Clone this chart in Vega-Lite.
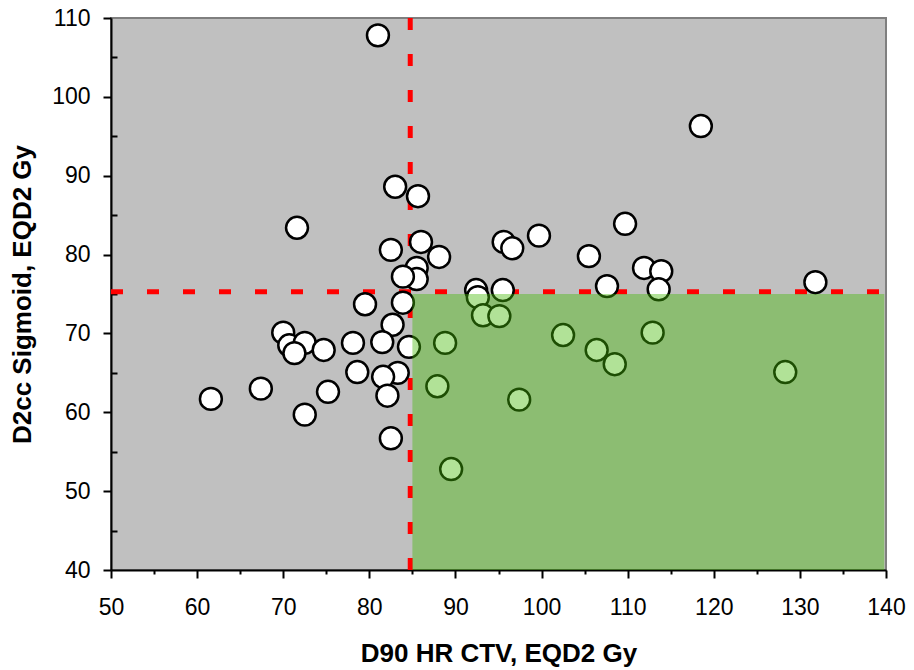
{
  "$schema": "https://vega.github.io/schema/vega-lite/v6.json",
  "width": 775,
  "height": 552,
  "autosize": {"type": "none"},
  "padding": {"left": 111, "top": 18, "right": 28, "bottom": 100},
  "config": {
    "view": {"fill": "#c0c0c0", "stroke": "#7f7f7f", "strokeWidth": 2},
    "axis": {
      "grid": false,
      "domainColor": "black",
      "domainWidth": 2,
      "tickColor": "black",
      "tickWidth": 2,
      "labelFont": "Liberation Sans",
      "labelFontSize": 23,
      "labelColor": "black",
      "titleFont": "Liberation Sans",
      "titleFontSize": 26,
      "titleFontWeight": "bold",
      "titleColor": "black",
      "zindex": 1
    }
  },
  "datasets": {
    "patients": [
      {"d90": 81.0, "d2cc": 107.8},
      {"d90": 118.5, "d2cc": 96.3},
      {"d90": 83.0, "d2cc": 88.6},
      {"d90": 85.65, "d2cc": 87.4},
      {"d90": 71.6, "d2cc": 83.4},
      {"d90": 109.7, "d2cc": 83.9},
      {"d90": 82.5, "d2cc": 80.6},
      {"d90": 86.0, "d2cc": 81.6},
      {"d90": 88.1, "d2cc": 79.7},
      {"d90": 95.6, "d2cc": 81.6},
      {"d90": 96.6, "d2cc": 80.8},
      {"d90": 99.7, "d2cc": 82.4},
      {"d90": 105.5, "d2cc": 79.8},
      {"d90": 111.9, "d2cc": 78.3},
      {"d90": 113.9, "d2cc": 77.9},
      {"d90": 107.6, "d2cc": 76.0},
      {"d90": 113.6, "d2cc": 75.6},
      {"d90": 131.8, "d2cc": 76.5},
      {"d90": 85.5, "d2cc": 78.3},
      {"d90": 85.5, "d2cc": 76.9},
      {"d90": 83.9, "d2cc": 77.2},
      {"d90": 92.4, "d2cc": 75.5},
      {"d90": 92.6, "d2cc": 74.6},
      {"d90": 95.5, "d2cc": 75.5},
      {"d90": 79.5, "d2cc": 73.7},
      {"d90": 83.9, "d2cc": 73.9},
      {"d90": 82.7, "d2cc": 71.1},
      {"d90": 70.0, "d2cc": 70.1},
      {"d90": 70.7, "d2cc": 68.5},
      {"d90": 72.5, "d2cc": 68.8},
      {"d90": 71.3, "d2cc": 67.5},
      {"d90": 74.7, "d2cc": 67.9},
      {"d90": 78.1, "d2cc": 68.8},
      {"d90": 81.5, "d2cc": 68.9},
      {"d90": 84.6, "d2cc": 68.3},
      {"d90": 78.6, "d2cc": 65.1},
      {"d90": 83.3, "d2cc": 65.0},
      {"d90": 81.6, "d2cc": 64.5},
      {"d90": 82.1, "d2cc": 62.1},
      {"d90": 75.2, "d2cc": 62.6},
      {"d90": 67.4, "d2cc": 63.0},
      {"d90": 61.6, "d2cc": 61.7},
      {"d90": 72.5, "d2cc": 59.7},
      {"d90": 82.5, "d2cc": 56.7},
      {"d90": 93.2, "d2cc": 72.3},
      {"d90": 95.1, "d2cc": 72.2},
      {"d90": 88.8, "d2cc": 68.8},
      {"d90": 87.9, "d2cc": 63.3},
      {"d90": 89.5, "d2cc": 52.8},
      {"d90": 97.4, "d2cc": 61.6},
      {"d90": 102.5, "d2cc": 69.8},
      {"d90": 106.4, "d2cc": 67.9},
      {"d90": 108.5, "d2cc": 66.1},
      {"d90": 112.9, "d2cc": 70.1},
      {"d90": 128.3, "d2cc": 65.1}
    ],
    "vline": [{"x": 84.75, "y": 110, "y2": 40}],
    "hline": [{"x": 50, "x2": 140, "y": 75.3}],
    "zone": [{"x": 85, "x2": 139.8, "y": 40, "y2": 75}]
  },
  "layer": [
    {
      "data": {"name": "vline"},
      "mark": {"type": "rule", "color": "#ff0000", "strokeWidth": 5, "strokeDash": [12, 24]},
      "encoding": {
        "x": {"field": "x", "type": "quantitative", "scale": {"domain": [50, 140], "nice": false, "zero": false}, "axis": null},
        "y": {"field": "y", "type": "quantitative", "scale": {"domain": [40, 110], "nice": false, "zero": false}, "axis": null},
        "y2": {"field": "y2"}
      }
    },
    {
      "data": {"name": "hline"},
      "mark": {"type": "rule", "color": "#ff0000", "strokeWidth": 5, "strokeDash": [12, 24]},
      "encoding": {
        "x": {"field": "x", "type": "quantitative", "scale": {"domain": [50, 140], "nice": false, "zero": false}, "axis": null},
        "x2": {"field": "x2"},
        "y": {"field": "y", "type": "quantitative", "scale": {"domain": [40, 110], "nice": false, "zero": false}, "axis": null}
      }
    },
    {
      "data": {"name": "patients"},
      "mark": {"type": "circle", "size": 480, "fill": "#ffffff", "stroke": "#000000", "strokeWidth": 2.5, "opacity": 1},
      "encoding": {
        "x": {
          "field": "d90", "type": "quantitative",
          "scale": {"domain": [50, 140], "nice": false, "zero": false},
          "axis": {
            "orient": "bottom",
            "values": [50, 60, 70, 80, 90, 100, 110, 120, 130, 140],
            "tickSize": 8,
            "labelPadding": 18,
            "labelFlush": false,
            "labelOverlap": false,
            "title": "D90 HR CTV, EQD2 Gy",
            "titleX": 387.5,
            "titleY": 91,
            "titleBaseline": "alphabetic"
          }
        },
        "y": {
          "field": "d2cc", "type": "quantitative",
          "scale": {"domain": [40, 110], "nice": false, "zero": false},
          "axis": {
            "orient": "left",
            "values": [40, 50, 60, 70, 80, 90, 100, 110],
            "tickSize": 8,
            "labelPadding": 13,
            "labelFlush": false,
            "labelOverlap": false,
            "title": "D2cc Sigmoid, EQD2 Gy",
            "titleX": -89,
            "titleY": 276,
            "titleAngle": -90,
            "titleBaseline": "middle"
          }
        }
      }
    },
    {
      "data": {"name": "zone"},
      "mark": {"type": "rect", "fill": "#44bb06", "opacity": 0.42},
      "encoding": {
        "x": {
          "field": "x", "type": "quantitative",
          "scale": {"domain": [50, 140], "nice": false, "zero": false},
          "axis": {"orient": "bottom", "values": [55, 65, 75, 85, 95, 105, 115, 125, 135], "tickSize": 4, "labels": false, "domain": false, "title": null}
        },
        "x2": {"field": "x2"},
        "y": {
          "field": "y", "type": "quantitative",
          "scale": {"domain": [40, 110], "nice": false, "zero": false},
          "axis": {"orient": "left", "values": [45, 55, 65, 75, 85, 95, 105], "tickSize": -6, "labels": false, "domain": false, "title": null}
        },
        "y2": {"field": "y2"}
      }
    }
  ],
  "resolve": {"axis": {"x": "independent", "y": "independent"}}
}
